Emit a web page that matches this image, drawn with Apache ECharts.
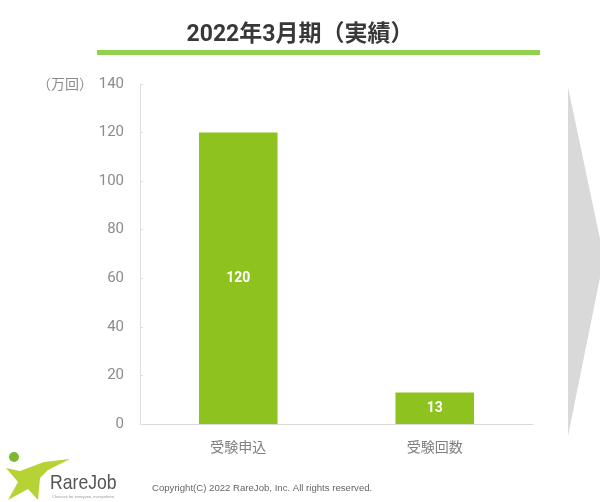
<!DOCTYPE html>
<html>
<head>
<meta charset="utf-8">
<script src="https://cdn.jsdelivr.net/npm/echarts@6/dist/echarts.min.js"></script>
<style>
  html, body { margin: 0; padding: 0; background: #fff; }
  #chart { width: 600px; height: 502px; }
</style>
</head>
<body>
<div id="chart"></div>
<script>
// Exam figures for FY ending March 2022 (unit: 10,000 times)
const categories = ['受験申込', '受験回数'];
const values = [120, 13];
const yTicks = { min: 0, max: 140, interval: 20 };
const titleText = '2022年3月期（実績）';
const unitText = '（万回）';
const copyrightText = 'Copyright(C) 2022 RareJob, Inc. All rights reserved.';

const FONT = 'Roboto, "Noto Sans CJK JP", "Noto Sans", sans-serif';
const GREEN = '#8dc21f';

const chart = echarts.init(document.getElementById('chart'), null, { renderer: 'canvas' });

chart.setOption({
  animation: false,
  backgroundColor: '#fff',
  title: {
    text: titleText,
    left: 'center',
    top: 19,
    textStyle: { fontFamily: FONT, fontSize: 23, fontWeight: 'bold', color: '#383838' }
  },
  grid: { left: 140, right: 67, top: 84, bottom: 78 },
  xAxis: {
    type: 'category',
    data: categories,
    axisLine: { lineStyle: { color: '#d9d9d9', width: 1 } },
    axisTick: { show: false },
    axisLabel: { color: '#808080', fontFamily: FONT, fontSize: 14, margin: 18 }
  },
  yAxis: {
    type: 'value',
    min: yTicks.min,
    max: yTicks.max,
    interval: yTicks.interval,
    axisLine: { show: true, lineStyle: { color: '#e0e0e0', width: 1 } },
    axisTick: { show: true, inside: true, length: 3, lineStyle: { color: '#e0e0e0' } },
    splitLine: { show: false },
    axisLabel: { color: '#8c8c8c', fontFamily: FONT, fontSize: 15, margin: 16, padding: [3, 0, 0, 0] }
  },
  series: [{
    type: 'bar',
    data: values,
    barWidth: '40%',
    itemStyle: { color: GREEN },
    label: {
      show: true,
      position: 'inside',
      color: '#fff',
      fontFamily: FONT,
      fontWeight: 'bold',
      fontSize: 14
    }
  }],
  graphic: [
    // underline beneath the heading
    { type: 'rect', shape: { x: 97, y: 50, width: 443, height: 5 }, style: { fill: '#92d050' } },
    // unit label beside the top tick
    { type: 'text', x: 93, y: 85, style: { text: unitText, fill: '#8c8c8c', font: '14px ' + FONT, textAlign: 'right', textVerticalAlign: 'middle' } },
    // grey arrow on the right edge
    { type: 'polygon', shape: { points: [[568, 87], [604, 258], [568, 436]] }, style: { fill: '#d9d9d9' } },
    // logo mark
    { type: 'circle', shape: { cx: 14, cy: 457, r: 5 }, style: { fill: '#7cb82f' } },
    { type: 'polygon', shape: { points: [[6, 468], [20, 471], [44, 462], [70, 459], [48, 470], [40, 478], [38, 500], [28, 489], [8, 500], [18, 482]] }, style: { fill: '#b5d334' } },
    { type: 'text', x: 50, y: 483, scaleX: 0.84, style: { text: 'RareJob', fill: '#555', font: '21px "Liberation Sans", Arial, sans-serif', textVerticalAlign: 'middle' } },
    { type: 'text', x: 52, y: 497, style: { text: 'Chances for everyone, everywhere.', fill: '#999', font: '4px "Liberation Sans", Arial, sans-serif', textVerticalAlign: 'middle' } },
    { type: 'text', x: 152, y: 488, style: { text: copyrightText, fill: '#666', font: '9.6px "Liberation Sans", Arial, sans-serif', textVerticalAlign: 'middle' } }
  ]
});
</script>
</body>
</html>
